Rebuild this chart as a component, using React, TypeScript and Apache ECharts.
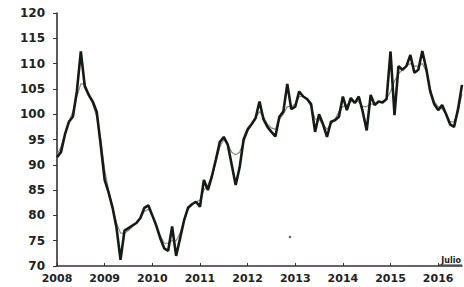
import React, { useEffect, useRef } from "react";
import * as echarts from "echarts";

const years = ["2008", "2009", "2010", "2011", "2012", "2013", "2014", "2015", "2016"];
const yTicks = [70, 75, 80, 85, 90, 95, 100, 105, 110, 115, 120];

// Monthly values, Jan 2008 .. Jul 2016
const monthly = [
  91.5, 92.5, 96, 98.5, 99.5, 104.5, 112.4, 105.5, 103.8, 102.5, 100.5, 94,
  87, 84.5, 81.5, 77.5, 71.2, 77, 77.5, 78, 78.5, 79.5, 81.5, 82,
  80, 78, 75.5, 73.5, 73, 77.8, 72, 75.5, 79, 81.5, 82.2, 82.7,
  81.7, 87, 85, 87.7, 91, 94.5, 95.5, 94, 90, 86, 89.5, 95,
  97, 98, 99.2, 102.5, 99, 97.5, 96.5, 95.6, 99.5, 100.5, 106, 101,
  101.5, 104.5, 103.5, 103, 102, 96.5, 100, 98, 95.5, 98.5, 98.8, 99.5,
  103.5, 100.8, 103.2, 102.2, 103.5, 100.5, 96.8, 103.8, 101.8, 102.5, 102.3, 103,
  112.4, 99.8, 109.5, 108.8, 109.5, 111.7, 108.2, 108.8, 112.5, 109, 104.5, 102,
  100.8, 101.8, 100, 98, 97.5, 101, 105.8,
];

// Trend values, Jan 2008 .. Jul 2016
const trend = [
  92, 93.5, 96, 98.5, 100.5, 103.5, 106, 106, 104, 102, 99.5, 95,
  89, 85, 81.5, 78.5, 76.5, 76.5, 77, 77.8, 78.5, 79.5, 80.8, 81.2,
  80, 78, 76, 74.5, 74.5, 75, 75, 76.5, 79, 81.2, 82.2, 82.7,
  83, 85, 86, 87.8, 90.5, 93.5, 95, 94, 92.5, 92, 92.5, 94.5,
  96.5, 98, 99.2, 100.5, 99.5, 98, 97.3, 97, 99, 100, 101.5, 101.5,
  102, 103.5, 103.5, 102.8, 101.5, 99, 99, 98, 97, 98, 99, 100.5,
  101.5, 101.8, 102.5, 102.5, 102.5, 101.5, 101.5, 102, 102, 102.3, 102.5, 103,
  104.5, 106.5, 108, 108.8, 109.5, 110, 109.5, 109.5, 110, 108.5, 105, 102.5,
  101.5, 101, 100, 98.5, 98.5, 100.5, 104,
];

const months = monthly.map((_, i) => `${2008 + Math.floor(i / 12)}-${(i % 12) + 1}`);

export default function App() {
  const ref = useRef<HTMLDivElement>(null);
  useEffect(() => {
    document.body.style.margin = "0";
    if (!ref.current) return;
    const chart = echarts.init(ref.current, undefined, { renderer: "svg" });
    const showYear = (i: number) => i % 12 === 0;
    chart.setOption({
      animation: false,
      backgroundColor: "#ffffff",
      grid: { left: 57, right: 2, top: 13, bottom: 21, containLabel: false },
      xAxis: {
        type: "category",
        data: months,
        boundaryGap: false,
        axisLine: { lineStyle: { color: "#3a2f3a", width: 1.5 } },
        axisTick: { show: true, interval: (i: number) => showYear(i), length: 3, inside: true, lineStyle: { color: "#333" } },
        axisLabel: {
          interval: (i: number) => showYear(i),
          formatter: (_v: string, i: number) => years[Math.floor(i / 12)] ?? "",
          color: "#222",
          fontFamily: "DejaVu Sans",
          fontWeight: "bold",
          fontSize: 11,
          margin: 7,
        },
        splitLine: { show: false },
      },
      yAxis: {
        type: "value",
        min: yTicks[0],
        max: yTicks[yTicks.length - 1],
        interval: 5,
        axisLine: { show: true, lineStyle: { color: "#2a1f2a", width: 1.5 } },
        axisTick: { show: true, length: 4, lineStyle: { color: "#333" } },
        axisLabel: {
          color: "#222",
          fontFamily: "DejaVu Sans",
          fontWeight: "bold",
          fontSize: 12,
          margin: 12,
        },
        splitLine: { show: false },
      },
      series: [
        {
          type: "line",
          name: "trend",
          data: trend,
          symbol: "none",
          lineStyle: { color: "#7f8f7f", width: 1.2 },
          z: 1,
        },
        {
          type: "line",
          name: "monthly",
          data: monthly,
          symbol: "none",
          lineStyle: { color: "#141a14", width: 2.6 },
          z: 2,
        },
      ],
      graphic: [
        {
          type: "text",
          right: 3,
          top: 256,
          style: { text: "Julio", fill: "#222", font: "bold 8px DejaVu Sans" },
        },
        {
          type: "line",
          shape: { x1: 438, y1: 265, x2: 462, y2: 265 },
          style: { stroke: "#2a2a2a", lineWidth: 1 },
        },
        {
          type: "circle",
          shape: { cx: 290, cy: 237, r: 1.2 },
          style: { fill: "#555" },
        },
      ],
    });
    return () => chart.dispose();
  }, []);
  return <div ref={ref} style={{ width: 464, height: 287 }} />;
}
